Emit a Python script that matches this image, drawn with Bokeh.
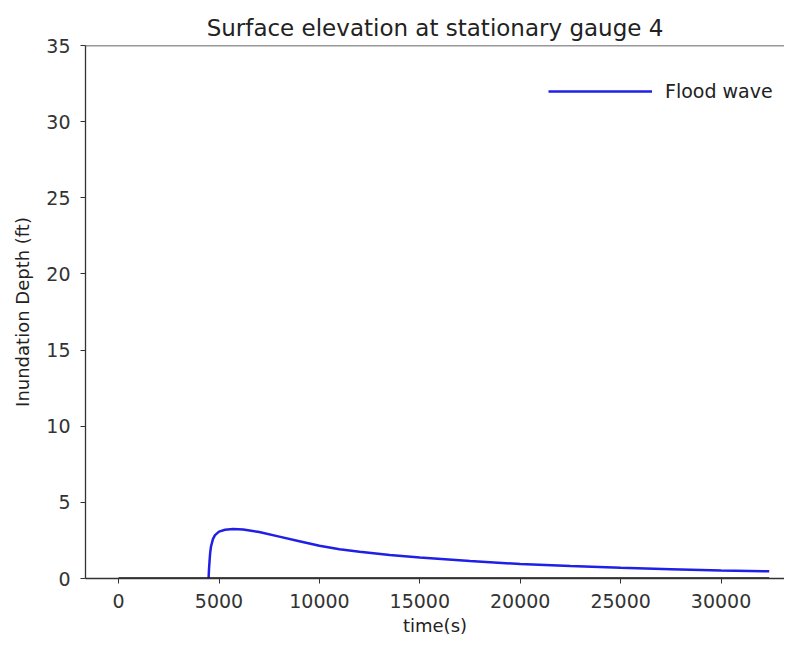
from bokeh.plotting import figure
from bokeh.models import Legend, LegendItem, Span, FixedTicker, Range1d
from bokeh.embed import file_html
from bokeh.resources import INLINE

# ---- data ----
time_s = [4480, 4500, 4530, 4560, 4600, 4700, 4800, 5000, 5300, 5700, 6200,
          7000, 8000, 9000, 10000, 11000, 12000, 13500, 15000, 17500, 20000,
          22500, 25000, 27500, 30000, 32400]
depth_ft = [0.0, 0.6, 1.2, 1.7, 2.1, 2.6, 2.85, 3.08, 3.2, 3.25, 3.22,
            3.05, 2.75, 2.45, 2.15, 1.92, 1.75, 1.55, 1.38, 1.15, 0.95,
            0.82, 0.70, 0.61, 0.53, 0.47]
ground_t = [0, 32400]
ground_d = [0, 0]
x_ticks = [0, 5000, 10000, 15000, 20000, 25000, 30000]
y_ticks = [0, 5, 10, 15, 20, 25, 30, 35]

FONT = "DejaVu Sans"

p = figure(width=784, height=641, output_backend="svg", toolbar_location=None,
           x_range=Range1d(-1650, 33160), y_range=Range1d(0, 35),
           title="Surface elevation at stationary gauge 4",
           min_border_left=85, min_border_right=0, min_border_top=45,
           min_border_bottom=63)

p.title.align = "center"
p.title.text_font = FONT
p.title.text_font_size = "23px"
p.title.text_font_style = "normal"
p.title.text_color = "#222222"
p.title.standoff = 9

p.grid.visible = False
p.outline_line_color = None
p.background_fill_color = "white"
p.border_fill_color = "white"

for ax in (p.xaxis[0], p.yaxis[0]):
    ax.axis_line_color = "#333333"
    ax.axis_line_width = 1.3
    ax.major_tick_line_color = "#333333"
    ax.major_tick_out = 5
    ax.major_tick_in = 0
    ax.minor_tick_line_color = None
    ax.major_label_text_font = FONT
    ax.major_label_text_font_size = "19px"
    ax.major_label_text_color = "#333333"
    ax.axis_label_text_font = FONT
    ax.axis_label_text_font_size = "18px"
    ax.axis_label_text_font_style = "normal"
    ax.axis_label_text_color = "#222222"

p.xaxis[0].ticker = FixedTicker(ticks=x_ticks)
p.yaxis[0].ticker = FixedTicker(ticks=y_ticks)
p.xaxis[0].axis_label = "time(s)"
p.yaxis[0].axis_label = "Inundation Depth (ft)"
p.xaxis[0].major_label_standoff = 10
p.xaxis[0].axis_label_standoff = 4
p.yaxis[0].major_label_standoff = 10
p.yaxis[0].axis_label_standoff = 10

# top spine
p.add_layout(Span(location=35, dimension="width", line_color="#333333", line_width=1.3))

r_flood = p.line(time_s, depth_ft, line_color="#1f1fe6", line_width=2.5)
p.line(ground_t, ground_d, line_color="#111111", line_width=2.5)

legend = Legend(items=[LegendItem(label="Flood wave", renderers=[r_flood])],
                location=(463, 476), padding=0, margin=0, spacing=0,
                glyph_width=104, label_standoff=13,
                border_line_color=None, background_fill_alpha=0,
                label_text_font=FONT, label_text_font_size="19px",
                label_text_color="#222222")
p.add_layout(legend)

open("out.html", "w").write(file_html(p, INLINE))
